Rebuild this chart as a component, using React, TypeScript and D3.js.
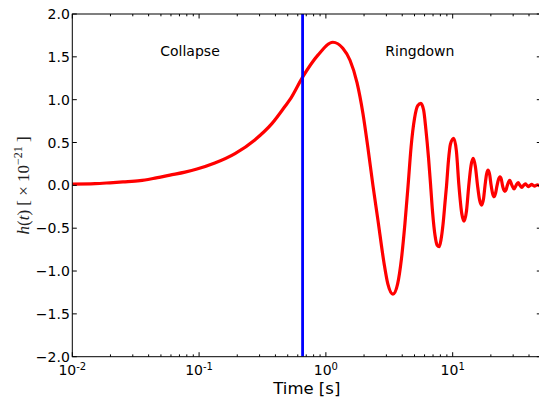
import React from 'react';
import * as d3 from 'd3';

// strain h(t), x in seconds (log axis)
const times = [
  0.01, 0.0151, 0.0198, 0.0251, 0.0342, 0.0433, 0.0589, 0.0774, 0.0962, 0.133,
  0.192, 0.275, 0.375, 0.475, 0.52, 0.659, 0.865, 1.135, 1.36, 1.55,
  1.76, 1.96, 2.14, 2.35, 2.57, 2.87, 3.08, 3.38, 3.68, 3.95,
  4.2, 4.45, 4.7, 5.0, 5.3, 5.61, 5.9, 6.15, 6.45, 6.7,
  6.95, 7.25, 7.55, 7.83, 8.1, 8.4, 8.7, 8.95, 9.25, 9.6,
  10.2, 10.7, 11.2, 11.8, 12.3, 12.85, 13.4, 13.95, 14.5, 15.1,
  15.7, 16.3, 16.9, 17.5, 18.0, 18.5, 19.05, 19.6, 20.1, 20.65,
  21.2, 21.8, 22.4, 23.0, 23.6, 24.2, 24.7, 25.25, 25.8, 26.4,
  27.0, 27.6, 28.2, 29.35, 30.5, 31.65, 32.8, 33.95, 35.1, 36.25,
  37.4, 38.55, 39.7, 40.85, 42.0, 43.15, 44.3, 45.45, 46.6, 47.75,
  48.9, 50
];
const strain = [
  0.015, 0.02, 0.03, 0.04, 0.055, 0.08, 0.12, 0.155, 0.19, 0.26,
  0.37, 0.53, 0.72, 0.92, 1.0, 1.27, 1.52, 1.67, 1.6, 1.46,
  1.2, 0.84, 0.45, 0.0, -0.4, -0.9, -1.15, -1.27, -1.15, -0.85,
  -0.45, 0.0, 0.45, 0.78, 0.93, 0.957, 0.88, 0.65, 0.32, 0.0,
  -0.32, -0.58, -0.7, -0.716, -0.63, -0.45, -0.2, 0.0, 0.28, 0.48,
  0.548, 0.4, 0.0, -0.33, -0.417, -0.3, 0.0, 0.23, 0.315, 0.22,
  0.0, -0.17, -0.23, -0.16, 0.0, 0.13, 0.179, 0.12, 0.0, -0.095,
  -0.133, -0.09, 0.0, 0.07, 0.1, 0.07, 0.0, -0.05, -0.07, -0.05,
  0.0, 0.04, 0.058, 0.0, -0.042, 0.0, 0.032, 0.0, -0.024, 0.0,
  0.018, 0.0, -0.014, 0.0, 0.011, 0.0, -0.008, 0.0, 0.006, 0.0,
  -0.005, 0.0
];

const bounceTime = 0.655;
const yTicks = [-2.0, -1.5, -1.0, -0.5, 0.0, 0.5, 1.0, 1.5, 2.0];
const xDecades = [-2, -1, 0, 1];
const phases = [
  { label: 'Collapse', t: 0.0848, h: 1.51 },
  { label: 'Ringdown', t: 5.51, h: 1.51 },
];

const W = 539;
const H = 401;
const font = '"DejaVu Sans", sans-serif';

export default function App() {
  const x = d3.scaleLog().domain([0.01, 50]).range([72.3, 541.3]);
  const y = d3.scaleLinear().domain([-2, 2]).range([356.7, 14]);
  const [x0, x1] = x.range();
  const [y0, y1] = y.range();

  const pts = times.map((t, i) => [t, strain[i]] as [number, number]);
  const line = d3.line<[number, number]>()
    .x(d => x(d[0]))
    .y(d => y(d[1]))
    .curve(d3.curveMonotoneX);

  const xTicks = x.ticks();
  const fmt = (v: number) => v.toFixed(1).replace('-', '\u2212');

  return (
    <svg width={W} height={H} style={{ position: 'absolute', left: 0, top: 0, display: 'block' }}
      fontFamily={font}>
      <rect x={0} y={0} width={W} height={H} fill="#fff" />
      <defs>
        <clipPath id="plot">
          <rect x={x0} y={y1} width={x1 - x0} height={y0 - y1} />
        </clipPath>
      </defs>

      <g clipPath="url(#plot)">
        <path d={line(pts) || ''} fill="none" stroke="#ff0000" strokeWidth={3.2}
          strokeLinejoin="round" strokeLinecap="round" />
        <line x1={x(bounceTime)} x2={x(bounceTime)} y1={y1} y2={y0}
          stroke="#0000ff" strokeWidth={2.8} />
      </g>

      {phases.map(p => (
        <text key={p.label} x={x(p.t)} y={y(p.h)} textAnchor="middle" fontSize={14} fill="#000">
          {p.label}
        </text>
      ))}

      {/* ticks */}
      <g stroke="#000" strokeWidth={1}>
        {yTicks.map(v => (
          <g key={v}>
            <line x1={x0} x2={x0 + 4.5} y1={y(v)} y2={y(v)} />
            <line x1={x1} x2={x1 - 4.5} y1={y(v)} y2={y(v)} />
          </g>
        ))}
        {xTicks.map((t, i) => {
          const major = Math.abs(Math.log10(t) - Math.round(Math.log10(t))) < 1e-6;
          const len = major ? 4.5 : 2.3;
          return (
            <g key={i}>
              <line x1={x(t)} x2={x(t)} y1={y0} y2={y0 - len} />
              <line x1={x(t)} x2={x(t)} y1={y1} y2={y1 + len} />
            </g>
          );
        })}
      </g>

      <rect x={x0} y={y1} width={x1 - x0} height={y0 - y1} fill="none" stroke="#000" strokeWidth={1} />

      {/* y tick labels */}
      {yTicks.map(v => (
        <text key={v} x={x0 - 2.5} y={y(v)} dy="0.36em" textAnchor="end" fontSize={14} fill="#000">
          {fmt(v)}
        </text>
      ))}

      {/* x tick labels */}
      {xDecades.map(e => (
        <text key={e} x={x(Math.pow(10, e))} y={374.5} textAnchor="middle" fontSize={14} fill="#000">
          10<tspan fontSize={10} dy={-5}>{e < 0 ? '-' + Math.abs(e) : String(e)}</tspan>
        </text>
      ))}

      <text x={(x0 + x1) / 2} y={394} textAnchor="middle" fontSize={16.5} fill="#000">Time [s]</text>

      <text transform={`translate(29,${(y0 + y1) / 2}) rotate(-90)`} textAnchor="middle"
        fontFamily='"Liberation Serif", serif' fontSize={17} fill="#222">
        <tspan fontStyle="italic">h</tspan>(<tspan fontStyle="italic">t</tspan>) [ × 10<tspan fontSize={12} dy={-7}>−21</tspan><tspan dy={7}> ]</tspan>
      </text>
    </svg>
  );
}
